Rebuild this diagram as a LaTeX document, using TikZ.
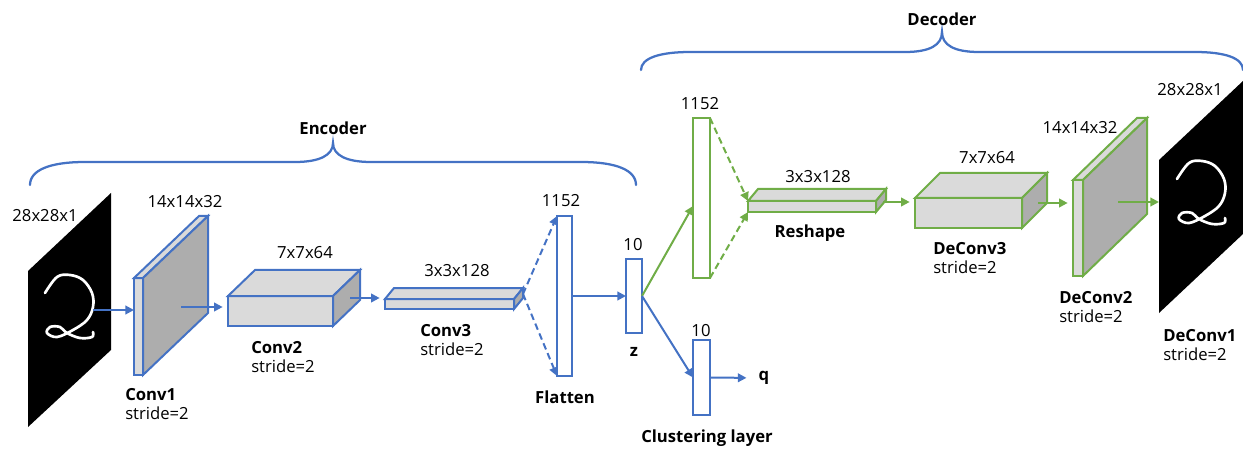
\documentclass[tikz,border=0pt]{standalone}
\usepackage{fontspec}
\setmainfont{Open Sans}
\usetikzlibrary{arrows.meta, calc, fit}
\definecolor{encblue}{HTML}{4472C4}
\definecolor{decgreen}{HTML}{70AD47}
\definecolor{topgray}{HTML}{DADADA}
\definecolor{sidegray}{HTML}{ADADAD}

% top and right faces of a layer block, #1 front node, (#2,#3) depth
\newcommand{\layerfaces}[4]{%
\draw [#4, fill=topgray] (#1.north west) -- ++(#2,-#3) -- ($(#1.north east)+(#2,-#3)$) -- (#1.north east) -- cycle ;
\draw [#4, fill=sidegray] (#1.north east) -- ++(#2,-#3) -- ($(#1.south east)+(#2,-#3)$) -- (#1.south east) -- cycle ;
}
% handwritten digit on the image planes
\newcommand{\handtwo}[1]{%
\draw [white, line width=2pt, line cap=round, line join=round, shift={#1}] plot [smooth, tension=0.6] coordinates {(45,293) (57,277) (70,275) (83,280) (92,293) (93,307) (87,320) (73,330) (57,337) (47,333) (50,327) (60,327) (67,333) (80,338) (92,337) (93,332)} ;
}

\begin{document}
\begin{tikzpicture}[x=0.75pt,y=0.75pt,yscale=-1,xscale=1,
  every node/.style={font=\fontsize{12.5}{14.5}\selectfont},
  enc/.style={draw=encblue, line width=1.5pt},
  dec/.style={draw=decgreen, line width=1.5pt},
  layer/.style={inner sep=0pt, outer sep=0pt, fill=white},
  front/.style={layer, fill=topgray},
  flow/.style={line width=1.5pt, -{Triangle[length=6.5pt,width=6.5pt]}},
  fan/.style={flow, dash pattern=on 5pt off 3pt},
  dimtext/.style={inner sep=0pt},
  nametext/.style={inner sep=0pt, align=left, anchor=west},
  brace/.style={line width=1.7pt, line cap=round}]
\useasboundingbox (0,0) rectangle (1243,449);

%Braces
\draw [brace, encblue] (30,185) .. controls (30,170) and (50,162) .. (85,162) -- (295,162) .. controls (320,162) and (333,155) .. (333,143) .. controls (333,155) and (346,162) .. (371,162) -- (581,162) .. controls (616,162) and (636,170) .. (636,185) ;
\draw [brace, encblue] (641,70) .. controls (641,58) and (660,52) .. (690,52) -- (905,52) .. controls (930,52) and (942,45) .. (942,32) .. controls (942,45) and (954,52) .. (979,52) -- (1195,52) .. controls (1225,52) and (1243,58) .. (1243,70) ;
% Text Node
\node (enctext) at (333,128) {\textbf{Encoder}};
% Text Node
\node (dectext) at (942,19) {\textbf{Decoder}};

%Input image
\fill [black] (28,271) -- (111,193) -- (111,350) -- (28,427) -- cycle ;
\handtwo{(0,0)}
\coordinate (intail) at (93,310);
\node [dimtext] (indim) at (45,216) {28x28x1};

%Conv1
\node [front, enc, fit={(134,278) (143,375)}] (conv1) {};
\layerfaces{conv1}{65}{62}{enc}
\coordinate (c1tail) at (181,307);
\node [dimtext] (conv1dim) at (185,202) {14x14x32};
\node [nametext] (conv1name) at (125,404) {\textbf{Conv1}\\stride=2};

%Conv2
\node [front, enc, fit={(228,296) (333,326)}] (conv2) {};
\layerfaces{conv2}{27}{26}{enc}
\coordinate (c2tail) at (350,298);
\node [dimtext] (conv2dim) at (305,253) {7x7x64};
\node [nametext] (conv2name) at (251,357) {\textbf{Conv2}\\stride=2};

%Conv3
\node [front, enc, fit={(385,299) (514,309)}] (conv3) {};
\layerfaces{conv3}{9}{11}{enc}
\coordinate (c3tip) at (523,294);
\node [dimtext] (conv3dim) at (457,271) {3x3x128};
\node [nametext] (conv3name) at (420,340) {\textbf{Conv3}\\stride=2};

%Flatten
\node [layer, enc, fit={(557,216) (572,376)}] (flatten) {};
\node [dimtext] (flattendim) at (561,201) {1152};
\node [dimtext] (flattenname) at (565,397) {\textbf{Flatten}};

%Embedded point z
\node [layer, enc, fit={(626,259) (642,333)}] (z) {};
\node [dimtext] (zdim) at (633,245) {10};
\node [dimtext] (zname) at (634,352) {\textbf{z}};

%Clustering layer
\node [layer, enc, fit={(693,340) (710,415)}] (clust) {};
\node [dimtext] (clustdim) at (701,331) {10};
\node [dimtext] (clustname) at (707,438) {\textbf{Clustering layer}};
\node [dimtext] (q) at (764,378) {\textbf{q}};

%Decoder dense layer
\node [layer, dec, fit={(693,118) (710,278)}] (dflat) {};
\node [dimtext] (dflatdim) at (700,104) {1152};

%Reshape
\node [front, dec, fit={(748,201) (876,212)}] (reshape) {};
\layerfaces{reshape}{10}{12}{dec}
\coordinate (rstail) at (883,202);
\node [dimtext] (reshapedim) at (818,177) {3x3x128};
\node [dimtext] (reshapename) at (810,233) {\textbf{Reshape}};

%DeConv3
\node [front, dec, fit={(915,198) (1022,228)}] (dc3) {};
\layerfaces{dc3}{25}{25}{dec}
\coordinate (dc3tail) at (1038,203);
\node [dimtext] (dc3dim) at (987,158) {7x7x64};
\node [nametext] (dc3name) at (933,258) {\textbf{DeConv3}\\stride=2};

%DeConv2
\node [front, dec, fit={(1073,180) (1083,276)}] (dc2) {};
\layerfaces{dc2}{64}{62}{dec}
\coordinate (dc2tail) at (1118,202);
\node [dimtext] (dc2dim) at (1080,128) {14x14x32};
\node [nametext] (dc2name) at (1059,307) {\textbf{DeConv2}\\stride=2};

%Output image
\fill [black] (1159,160) -- (1243,81) -- (1243,234) -- (1159,313) -- cycle ;
\handtwo{(1132,-114)}
\coordinate (outimg) at (1159,202);
\node [dimtext] (outdim) at (1190,90) {28x28x1};
\node [nametext] (dc1name) at (1163,345) {\textbf{DeConv1}\\stride=2};

%Straight Lines
\draw [flow, encblue] (intail) -- (intail -| conv1.west) ;
\draw [flow, encblue, shorten >=4pt] (c1tail) -- (c1tail -| conv2.west) ;
\draw [flow, encblue, shorten >=4pt] (c2tail) -- (c2tail -| conv3.west) ;
\draw [fan, encblue] (c3tip) -- (flatten.north west) ;
\draw [fan, encblue] (c3tip) -- (flatten.south west) ;
\draw [flow, encblue] (flatten.east) -- (z.west) ;
\draw [flow, decgreen] (z.east) -- ($(dflat.west)+(0,8)$) ;
\draw [flow, encblue] (z.east) -- (clust.west) ;
\draw [flow, encblue, shorten >=9pt] (clust.east) -- (q.west) ;
\draw [fan, decgreen] (dflat.north east) -- (reshape.north west) ;
\draw [fan, decgreen] (dflat.south east) -- (reshape.south west) ;
\draw [flow, decgreen, shorten >=4pt] (rstail) -- (rstail -| dc3.west) ;
\draw [flow, decgreen, shorten >=4pt] (dc3tail) -- (dc3tail -| dc2.west) ;
\draw [flow, decgreen] (dc2tail) -- (outimg) ;

\end{tikzpicture}
\end{document}
